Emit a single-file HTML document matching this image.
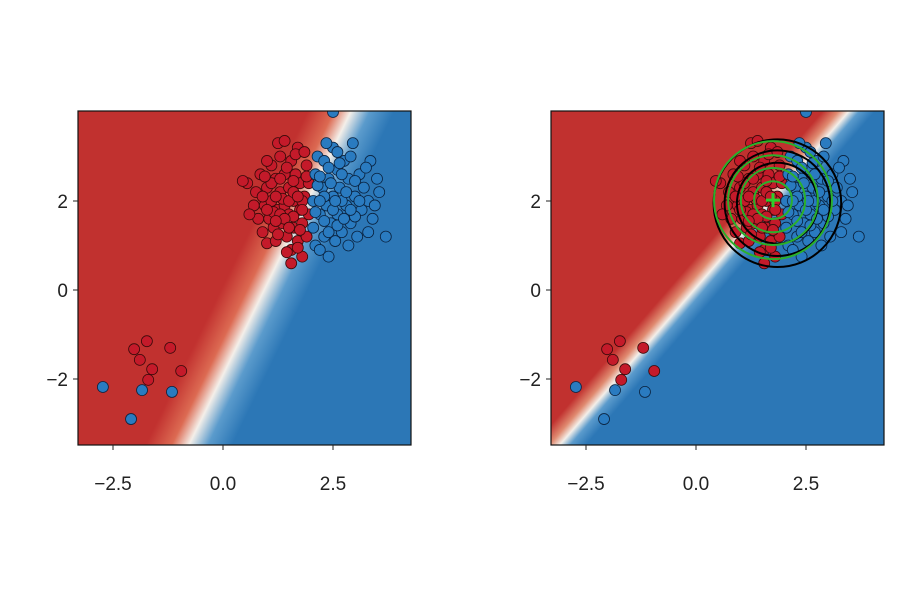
<!DOCTYPE html>
<html><head><meta charset="utf-8"><style>
body{margin:0;background:#fff;}
svg text{font-family:"Liberation Sans","DejaVu Sans",sans-serif;font-size:19px;fill:#222;}
</style></head><body>
<svg id="fig" width="900" height="600" viewBox="0 0 900 600">
<defs>
<linearGradient id="gL" gradientUnits="userSpaceOnUse" x1="235" y1="261" x2="305" y2="295">
<stop offset="0" stop-color="#c1312f"/><stop offset="0.3" stop-color="#dc6a52"/><stop offset="0.5" stop-color="#f4efe9"/><stop offset="0.72" stop-color="#5b9bcc"/><stop offset="1" stop-color="#2c77b6"/>
</linearGradient>
<linearGradient id="gR" gradientUnits="userSpaceOnUse" x1="692" y1="262" x2="722" y2="288">
<stop offset="0" stop-color="#c1312f"/><stop offset="0.3" stop-color="#e08a70"/><stop offset="0.5" stop-color="#f4efe9"/><stop offset="0.7" stop-color="#5b9bcc"/><stop offset="1" stop-color="#2c77b6"/>
</linearGradient>
<clipPath id="cL"><rect x="78" y="111" width="333" height="334"/></clipPath>
<clipPath id="cR"><rect x="551" y="111" width="334" height="334"/></clipPath>
</defs>
</svg>
<script>
const redX=[0.55,0.7,0.75,0.8,0.85,0.9,0.95,1.0,1.0,1.05,1.1,1.1,1.15,1.2,1.2,1.25,1.3,1.3,1.35,1.4,1.4,1.45,1.5,1.5,1.55,1.55,1.6,1.6,1.65,1.7,1.7,1.75,1.75,1.8,1.8,1.85,1.9,1.9,1.95,1.95,1.0,0.6,1.25,1.45,1.65,0.9,1.35,1.15,1.6,1.8,1.4,1.85,1.55,1.7,0.45,1.2,1.3,1.5,1.6,1.1,1.4,1.7,1.3,1.5,1.8,1.0,1.2,1.6,1.75,1.45,0.95,1.9,1.25,-1.73,-2.02,-1.2,-1.89,-1.61,-0.95,-1.7];
const redY=[2.4,1.9,2.2,1.6,2.6,1.3,1.9,2.3,1.05,1.6,2.8,2.0,1.4,2.5,1.1,1.8,2.2,3.0,1.5,2.6,1.9,1.2,2.3,1.7,2.9,0.9,2.0,1.4,2.6,1.1,3.2,1.8,2.4,0.75,1.5,2.1,2.8,1.2,1.7,2.4,2.9,1.7,3.3,0.85,3.05,2.1,2.05,1.75,1.65,2.0,3.35,3.1,0.6,0.95,2.45,2.1,1.7,2.0,2.2,2.4,1.6,2.1,2.5,1.4,1.8,1.8,1.55,2.45,1.35,2.75,2.55,2.55,1.25,-1.15,-1.33,-1.3,-1.57,-1.78,-1.82,-2.02];
const blueX=[2.05,2.05,2.1,2.1,2.15,2.2,2.25,2.3,2.3,2.35,2.4,2.4,2.45,2.5,2.5,2.55,2.6,2.6,2.65,2.7,2.75,2.8,2.85,2.9,2.95,3.0,3.05,3.1,3.15,3.2,3.3,3.35,3.4,3.5,3.7,3.3,2.5,2.2,2.9,3.25,3.55,2.15,2.4,2.7,3.45,2.35,2.85,2.1,3.0,2.6,2.3,2.5,2.45,2.7,2.6,2.2,2.4,2.8,2.9,3.1,2.55,2.3,2.75,3.0,2.2,2.65,-2.73,-1.84,-1.16,-2.09];
const blueY=[2.0,1.4,2.6,1.0,3.0,1.7,2.3,1.2,2.9,1.9,0.75,2.5,1.5,3.2,2.1,1.1,2.7,1.7,2.3,1.3,2.9,1.9,2.5,1.5,3.3,2.1,1.2,2.6,1.8,2.3,2.0,2.9,1.6,2.5,1.2,1.3,4.0,0.9,3.0,2.75,2.2,2.35,1.3,2.0,1.9,3.3,1.0,1.75,1.65,3.1,2.1,1.8,2.4,2.6,1.45,2.0,2.75,2.2,1.8,2.0,2.0,1.55,1.6,2.45,2.55,2.85,-2.18,-2.25,-2.29,-2.9];
const xTicks=[-2.5,0,2.5];
const xTickLabels=["\u22122.5","0.0","2.5"];
const yTicks=[2,0,-2];
const yTickLabels=["2","0","\u22122"];
const greenR=[0.43,0.73,1.02,1.34];
const blackR=[0.92,1.2,1.45];
const ctr=[1.75,2.02], ctrB=[1.85,1.95];

const NS="http://www.w3.org/2000/svg", svg=document.getElementById('fig');
function mk(t,a,p){const e=document.createElementNS(NS,t);for(const k in a)e.setAttribute(k,a[k]);(p||svg).appendChild(e);return e;}
function panel(ox,grad,clip,name,circles){
  const sx=v=>ox+145+v*44, sy=v=>290-v*44.5;
  const g=mk('g',{});
  
  
  const bg=mk('rect',{x:ox,y:111,width:333,height:334,fill:'url(#'+grad+')'},g);
  
  
  const pg=mk('g',{'clip-path':'url(#'+clip+')'},g);
  for(let i=0;i<redX.length;i++){const c=mk('circle',{cx:sx(redX[i]),cy:sy(redY[i]),r:5.5,fill:'#c41a2a',stroke:'#3a0a0a','stroke-width':0.8},pg);
    
    }
  for(let i=0;i<blueX.length;i++){const c=mk('circle',{cx:sx(blueX[i]),cy:sy(blueY[i]),r:5.5,fill:'#2a7bc0',stroke:'#0a2340','stroke-width':0.8},pg);
    
    }
  if(circles){
    blackR.forEach(r=>{const c=mk('circle',{cx:sx(ctrB[0]),cy:sy(ctrB[1]),r:r*44,fill:'none',stroke:'#000','stroke-width':2},pg);
      
      });
    greenR.forEach(r=>{const c=mk('circle',{cx:sx(ctr[0]),cy:sy(ctr[1]),r:r*44,fill:'none',stroke:'#2bb02b','stroke-width':2},pg);
      
      });
    const m=mk('path',{d:`M${sx(ctr[0])-7},${sy(ctr[1])}h14M${sx(ctr[0])},${sy(ctr[1])-7}v14`,stroke:'#2bd02b','stroke-width':3},pg);
    
    
  }
  const fr=mk('rect',{x:ox,y:111,width:333,height:334,fill:'none',stroke:'#111','stroke-width':1.2},g);
  
  
  xTicks.forEach((v,i)=>{mk('line',{x1:sx(v),x2:sx(v),y1:445,y2:450,stroke:'#222'},g);
    const t=mk('text',{x:sx(v),y:490,'text-anchor':'middle'},g);t.textContent=xTickLabels[i];
    
    });
  yTicks.forEach((v,i)=>{mk('line',{x1:ox-5,x2:ox,y1:sy(v),y2:sy(v),stroke:'#222'},g);
    const t=mk('text',{x:ox-10,y:sy(v)+7,'text-anchor':'end'},g);t.textContent=yTickLabels[i];
    
    });
}
panel(78,'gL','cL','left-panel',false);
panel(551,'gR','cR','right-panel',true);
</script>
</body></html>
